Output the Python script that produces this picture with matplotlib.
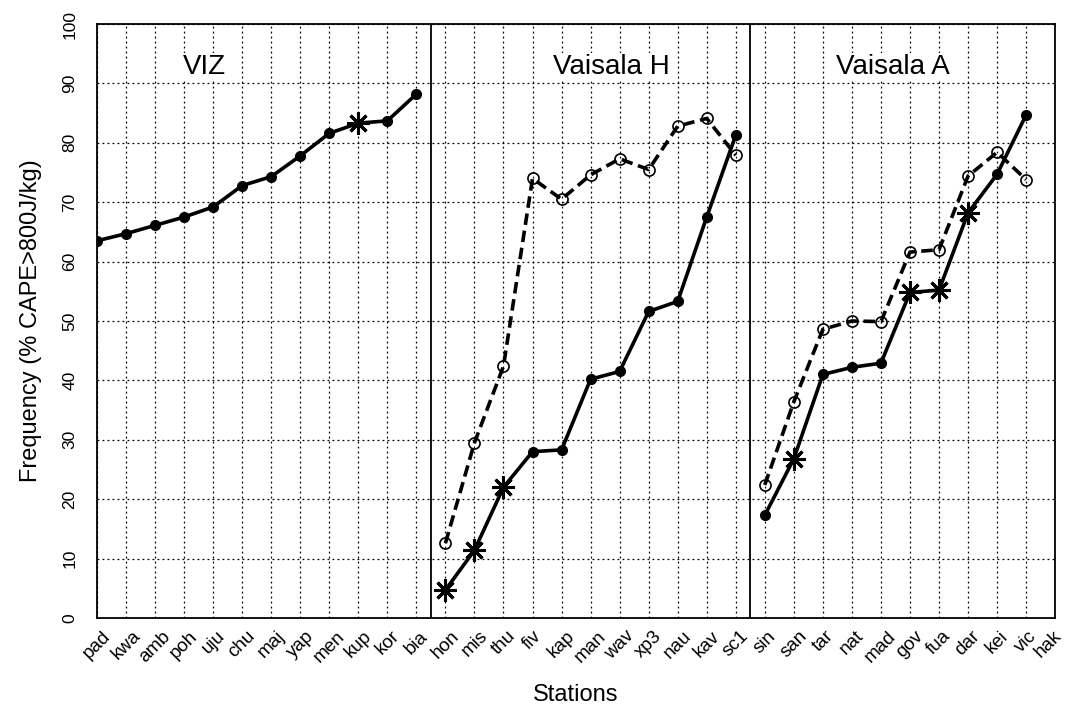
import numpy as np
import matplotlib
matplotlib.use('Agg')
import matplotlib.pyplot as plt
import matplotlib.transforms as mtransforms

plt.rcParams['font.family'] = ['Liberation Sans', 'DejaVu Sans']

stations = ['pad', 'kwa', 'amb', 'poh', 'uju', 'chu', 'maj', 'yap', 'men', 'kup', 'kor', 'bia',
            'hon', 'mis', 'thu', 'fiv', 'kap', 'man', 'wav', 'xp3', 'nau', 'kav', 'sc1',
            'sin', 'san', 'tar', 'nat', 'mad', 'gov', 'fua', 'dar', 'kei', 'vic', 'hak']

# VIZ (solid)
viz = [63.5, 64.7, 66.1, 67.5, 69.2, 72.8, 74.3, 77.8, 81.6, 83.3, 83.7, 88.2]
viz_star = [False] * 9 + [True] + [False] * 2

# Vaisala H
vh_solid = [4.7, 11.4, 22.0, 28.0, 28.3, 40.2, 41.5, 51.6, 53.3, 67.5, 81.3]
vh_star = [True, True, True] + [False] * 8
vh_dash = [12.6, 29.5, 42.4, 74.0, 70.5, 74.6, 77.3, 75.5, 82.8, 84.1, 77.9]

# Vaisala A
va_solid = [17.3, 26.8, 41.0, 42.2, 42.9, 54.8, 55.2, 68.2, 74.7, 84.7]
va_star = [False, True, False, False, False, True, True, True, False, False]
va_dash = [22.4, 36.4, 48.6, 50.0, 49.9, 61.6, 62.0, 74.4, 78.4, 73.8]

groups = [('VIZ', 0, 3.7, viz, viz_star, None),
          ('Vaisala H', 12, 17.7, vh_solid, vh_star, vh_dash),
          ('Vaisala A', 23, 27.4, va_solid, va_star, va_dash)]

fig = plt.figure(figsize=(10.67, 7.04), dpi=100)
ax = fig.add_axes([0.0909, 0.1222, 0.898, 0.8437])

star = (8, 2, 0)
for name, start, tx, solid, is_star, dash in groups:
    x = np.arange(start, start + len(solid))
    solid = np.array(solid)
    is_star = np.array(is_star)
    if dash is not None:
        ax.plot(x, dash, color='black', lw=2.6, ls=(0, (3.2, 1.6)), marker='o',
                ms=8, mfc='none', mec='black', mew=1.2, zorder=3)
    ax.plot(x, solid, color='black', lw=2.6, zorder=4)
    ax.plot(x[~is_star], solid[~is_star], ls='none', marker='o', ms=7,
            color='black', zorder=5)
    ax.plot(x[is_star], solid[is_star], ls='none', marker=star, ms=16,
            mew=2.2, color='black', zorder=5)
    ax.text(tx, 91.6, name, fontsize=20, ha='center', va='baseline', zorder=3,
            bbox=dict(facecolor='white', edgecolor='none', pad=1))

for sep in [11.5, 22.5]:
    ax.axvline(sep, color='black', lw=1.3, zorder=2)

ax.set_xlim(0, 33)
ax.set_ylim(0, 100)
ax.set_xticks(np.arange(len(stations)))
ax.set_xticklabels(stations, rotation=45, ha='center', fontsize=13.5)
ax.set_yticks(np.arange(0, 101, 10))
ax.tick_params(axis='x', length=0, pad=7)
ax.tick_params(axis='y', length=0, pad=14, labelsize=12.5)
for lab in ax.get_yticklabels():
    lab.set_rotation(90)
    lab.set_va('center')
# keep the last label inside the figure
last = ax.get_xticklabels()[-1]
last.set_transform(last.get_transform() +
                   mtransforms.ScaledTranslation(-7 / 100, 0, fig.dpi_scale_trans))
ax.grid(True, color='black', ls=(0, (1.5, 2.5)), lw=0.9)
for sp in ax.spines.values():
    sp.set_linewidth(1.3)

ax.set_ylabel('Frequency (% CAPE>800J/kg)', fontsize=17, labelpad=15)
ax.set_xlabel('Stations', fontsize=17, labelpad=13)

fig.savefig('out.png', dpi=100)
